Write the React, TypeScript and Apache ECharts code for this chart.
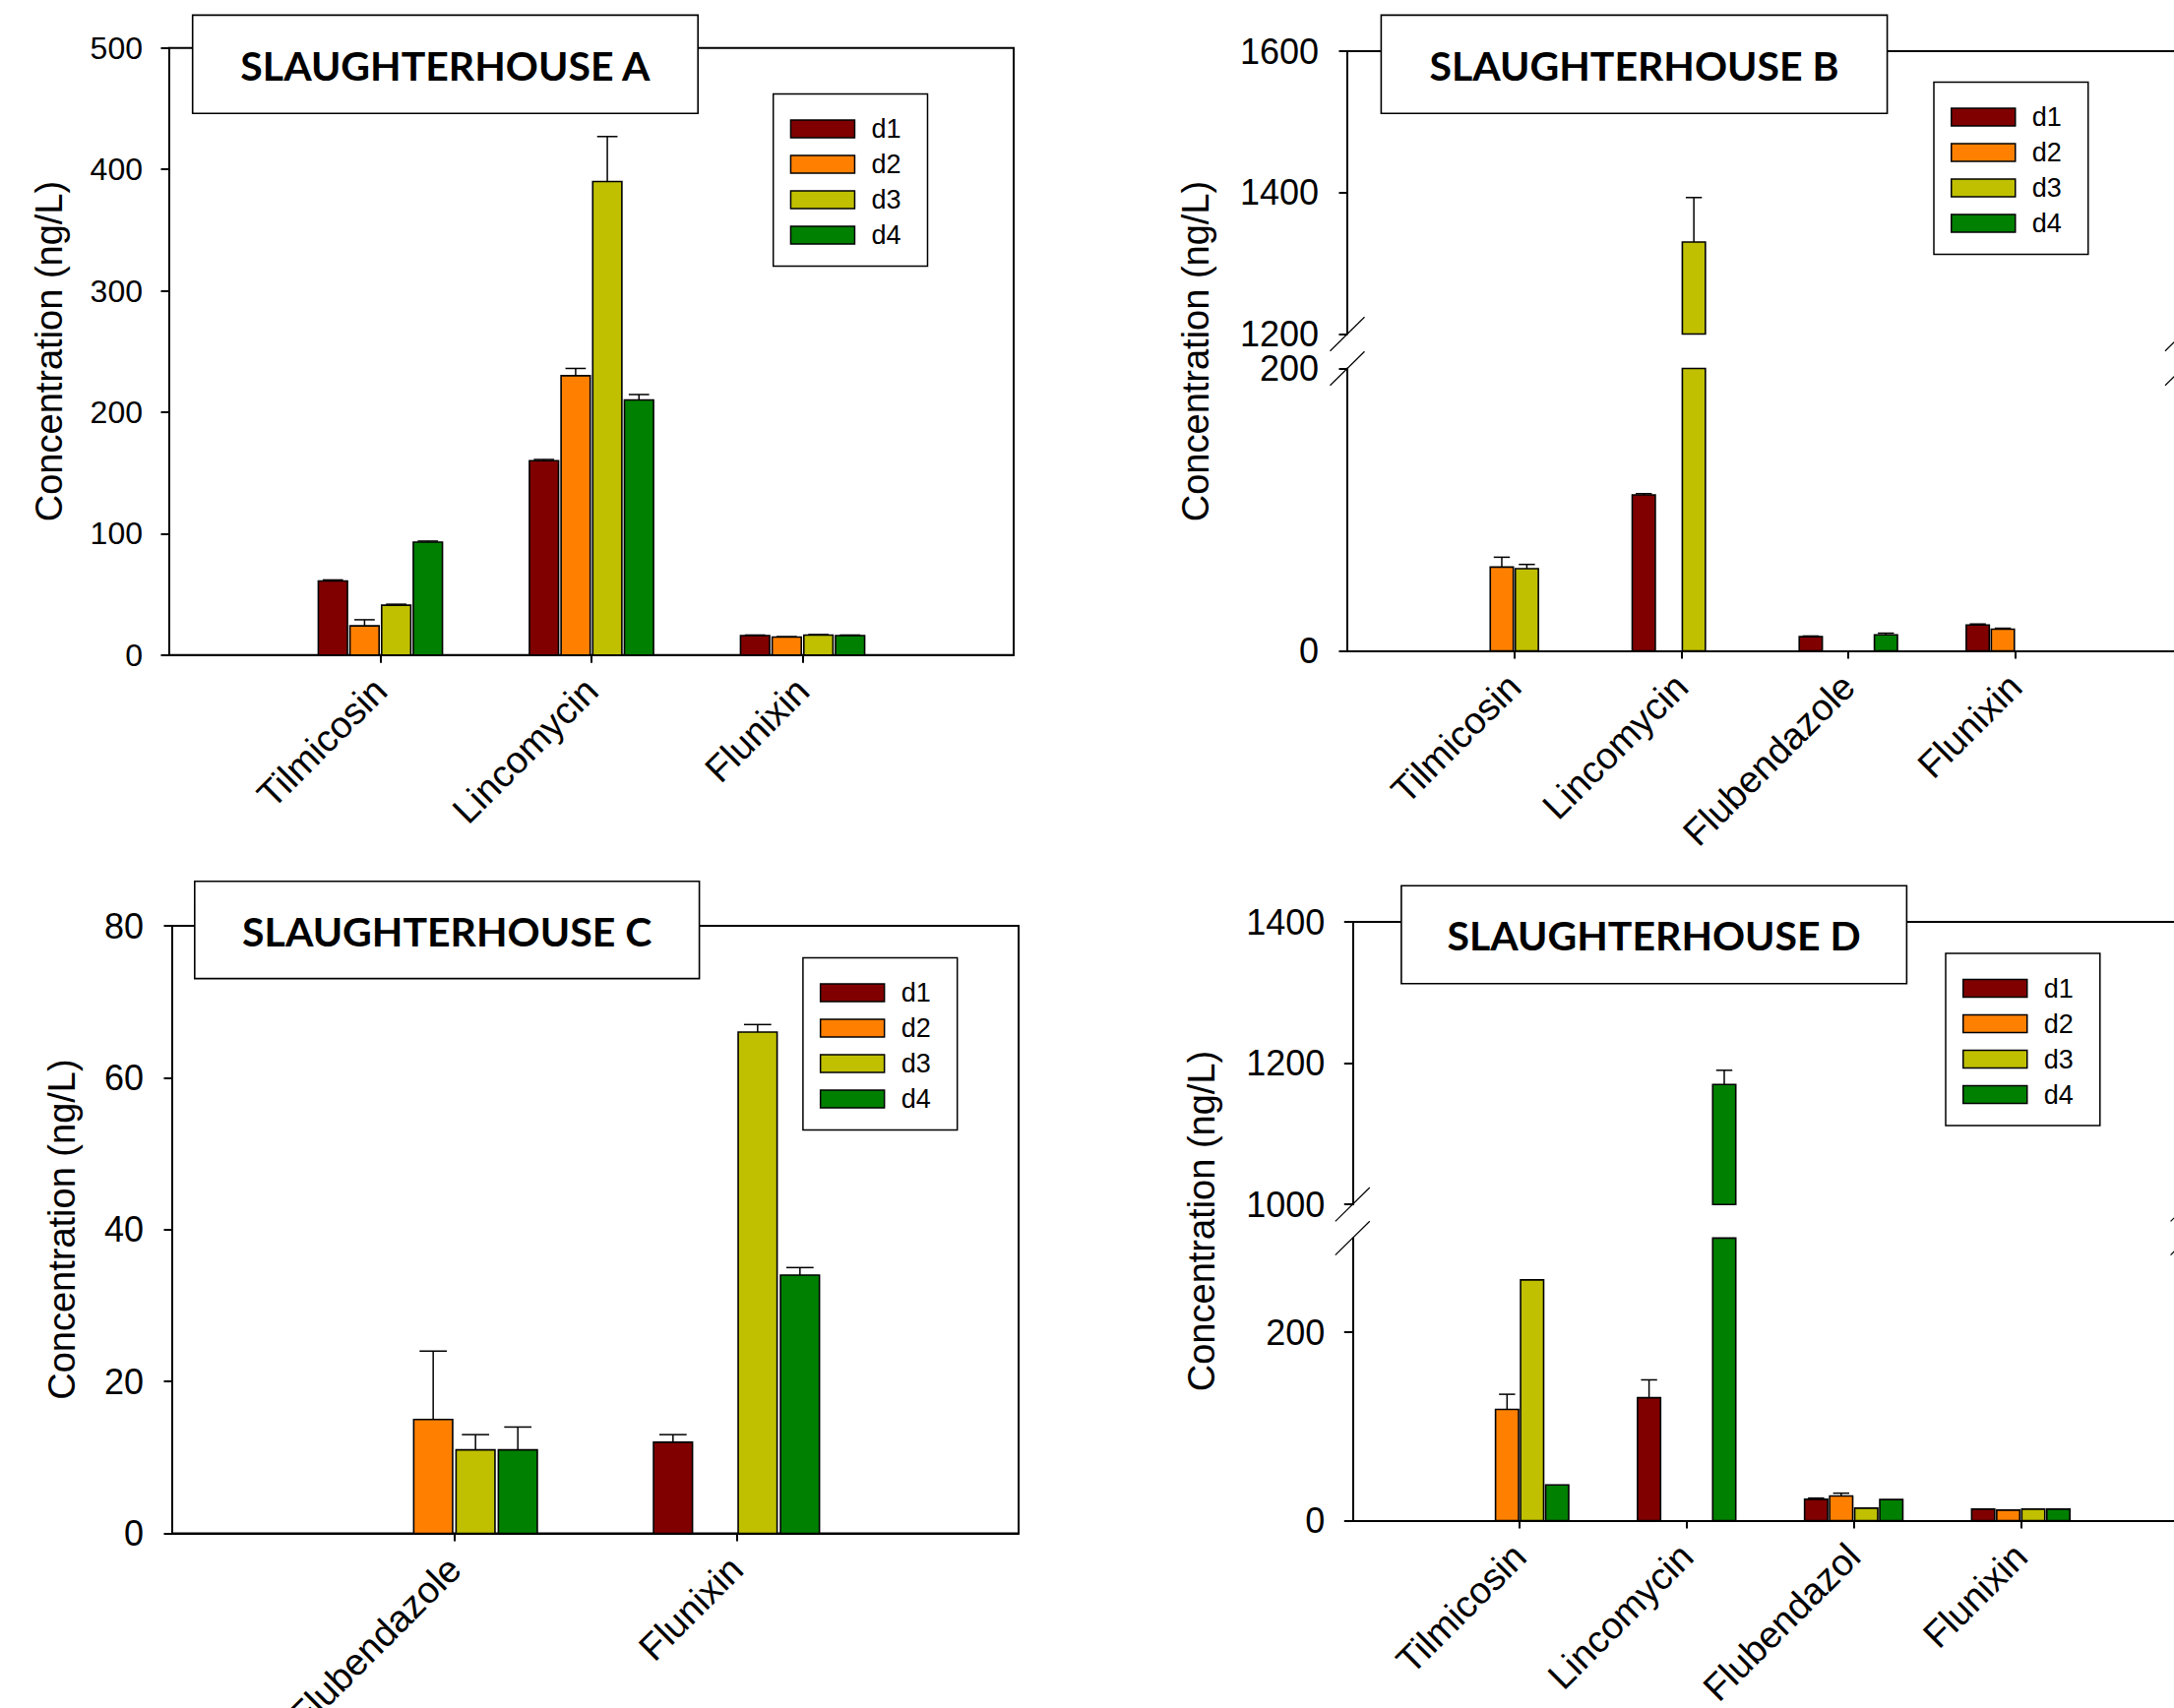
import React, { useEffect, useRef } from "react";
import * as echarts from "echarts";

// ---------- data ----------
const SERIES_NAMES = ["d1", "d2", "d3", "d4"];
const SERIES_COLORS = ["#800000", "#FF8000", "#C0C000", "#008000"];

const A_CATEGORIES = ["Tilmicosin", "Lincomycin", "Flunixin"];
const A_D1 = [61, 160, 16];
const A_D2 = [24, 230, 14.7];
const A_D3 = [41, 390, 16.4];
const A_D4 = [93, 210, 16];
const A_D1_ERR = [0.8, 1, 0.4];
const A_D2_ERR = [5, 6, 0.4];
const A_D3_ERR = [0.8, 37, 0.4];
const A_D4_ERR = [0.8, 4.5, 0.4];

const B_CATEGORIES = ["Tilmicosin", "Lincomycin", "Flubendazole", "Flunixin"];
const B_D1 = [null, 110.5, 10, 18.3];
const B_D2 = [59.3, null, null, 15.3];
const B_D3 = [58.2, 1330, null, null];
const B_D4 = [null, null, 11.3, null];
const B_D1_ERR = [0, 0.8, 0.5, 0.7];
const B_D2_ERR = [7, 0, 0, 0.7];
const B_D3_ERR = [3, 63, 0, 0];
const B_D4_ERR = [0, 0, 1.2, 0];

const C_CATEGORIES = ["Flubendazole", "Flunixin"];
const C_D1 = [null, 12];
const C_D2 = [15, null];
const C_D3 = [11, 66];
const C_D4 = [11, 34];
const C_D1_ERR = [0, 1];
const C_D2_ERR = [9, 0];
const C_D3_ERR = [2, 1];
const C_D4_ERR = [3, 1];

const D_CATEGORIES = ["Tilmicosin", "Lincomycin", "Flubendazol", "Flunixin"];
const D_D1 = [null, 130.5, 22.7, 12.2];
const D_D2 = [118.2, null, 26.2, 11.2];
const D_D3 = [255.6, null, 13.3, 12.2];
const D_D4 = [38, 1170, 22.4, 12.2];
const D_D1_ERR = [0, 19, 1.3, 0];
const D_D2_ERR = [16, 0, 3, 0];
const D_D3_ERR = [0, 0, 0, 0];
const D_D4_ERR = [0, 20, 0, 0];

const A_Y_TICKS = { min: 0, max: 500, interval: 100 };
const B_UPPER_TICKS = { min: 1200, max: 1600, interval: 200 };
const B_LOWER_TICKS = { min: 0, max: 200, interval: 200 };
const C_Y_TICKS = { min: 0, max: 80, interval: 20 };
const D_UPPER_TICKS = { min: 1000, max: 1400, interval: 200 };
const D_LOWER_TICKS = { min: 0, max: 300, interval: 200, custom: [0, 200] };

const TITLES = ["SLAUGHTERHOUSE A", "SLAUGHTERHOUSE B", "SLAUGHTERHOUSE C", "SLAUGHTERHOUSE D"];
const Y_NAME = "Concentration (ng/L)";

// ---------- layout / style ----------
const FONT = '"Liberation Sans", Arial, sans-serif';
const TITLE_FONT = 'Lato, "Open Sans", sans-serif';
const BAR_W = 0.138;
const BAR_STEP = 0.15;
const CAP_FRAC = 0.7;

const GRIDS = [
  { left: 172, top: 48.7, width: 858, height: 617, show: true }, // 0 A
  { left: 1369, top: 52, width: 848.5, height: 287.5 }, // 1 B upper
  { left: 1369, top: 374.5, width: 848.5, height: 287 }, // 2 B lower
  { left: 175, top: 941, width: 860, height: 617.5, show: true }, // 3 C
  { left: 1374.3, top: 937.1, width: 848.75, height: 287.1 }, // 4 D upper
  { left: 1374.3, top: 1258.4, width: 848.75, height: 287.2 }, // 5 D lower
];

type Seg = { grid: number; ticks: any; bottomAxis: boolean; topAxis: boolean; labelSize: number; labelMargin: number };
const PANELS = [
  {
    cats: A_CATEGORIES,
    values: [A_D1, A_D2, A_D3, A_D4],
    errs: [A_D1_ERR, A_D2_ERR, A_D3_ERR, A_D4_ERR],
    segs: [{ grid: 0, ticks: A_Y_TICKS, bottomAxis: true, topAxis: false, labelSize: 32, labelMargin: 27 }] as Seg[],
  },
  {
    cats: B_CATEGORIES,
    values: [B_D1, B_D2, B_D3, B_D4],
    errs: [B_D1_ERR, B_D2_ERR, B_D3_ERR, B_D4_ERR],
    segs: [
      { grid: 1, ticks: B_UPPER_TICKS, bottomAxis: false, topAxis: true, labelSize: 36, labelMargin: 29 },
      { grid: 2, ticks: B_LOWER_TICKS, bottomAxis: true, topAxis: false, labelSize: 36, labelMargin: 29 },
    ] as Seg[],
  },
  {
    cats: C_CATEGORIES,
    values: [C_D1, C_D2, C_D3, C_D4],
    errs: [C_D1_ERR, C_D2_ERR, C_D3_ERR, C_D4_ERR],
    segs: [{ grid: 3, ticks: C_Y_TICKS, bottomAxis: true, topAxis: false, labelSize: 36, labelMargin: 29 }] as Seg[],
  },
  {
    cats: D_CATEGORIES,
    values: [D_D1, D_D2, D_D3, D_D4],
    errs: [D_D1_ERR, D_D2_ERR, D_D3_ERR, D_D4_ERR],
    segs: [
      { grid: 4, ticks: D_UPPER_TICKS, bottomAxis: false, topAxis: true, labelSize: 36, labelMargin: 28 },
      { grid: 5, ticks: D_LOWER_TICKS, bottomAxis: true, topAxis: false, labelSize: 36, labelMargin: 28 },
    ] as Seg[],
  },
];

const TITLE_BOXES = [
  { x: 195.7, y: 15.4, w: 513.5, h: 99.8 },
  { x: 1403.4, y: 15.4, w: 514.2, h: 99.8 },
  { x: 197.8, y: 895.8, w: 512.8, h: 98.8 },
  { x: 1423.9, y: 900.2, w: 513.5, h: 99.5 },
];
const LEGEND_POS = [
  { left: 785.7, top: 95.4 },
  { left: 1965, top: 83.4 },
  { left: 815.9, top: 973.4 },
  { left: 1977, top: 969 },
];
const YNAME_POS = [
  { x: 50, y: 357 },
  { x: 1215, y: 357 },
  { x: 63, y: 1249.6 },
  { x: 1221, y: 1241 },
];

function makeRenderItem(k: number, lo: number, hi: number, color: string) {
  return (params: any, api: any) => {
    const pos = api.value(0);
    const v = api.value(1);
    const e = api.value(2);
    if (v == null || isNaN(v) || v <= lo) return null;
    const xc = pos + (k - 1.5) * BAR_STEP;
    const top = Math.min(v, hi);
    const p0 = api.coord([xc - BAR_W / 2, lo]);
    const p1 = api.coord([xc + BAR_W / 2, top]);
    const children: any[] = [
      {
        type: "rect",
        shape: { x: p0[0], y: p1[1], width: p1[0] - p0[0], height: p0[1] - p1[1] },
        style: { fill: color, stroke: "#000", lineWidth: 1.6 },
      },
    ];
    if (v <= hi && e > 0) {
      const eTop = Math.min(v + e, hi);
      const c = api.coord([xc, v]);
      const ce = api.coord([xc, eTop]);
      const half = ((p1[0] - p0[0]) * CAP_FRAC) / 2;
      children.push({
        type: "line",
        shape: { x1: c[0], y1: c[1], x2: ce[0], y2: ce[1] },
        style: { stroke: "#000", lineWidth: 1.5 },
      });
      children.push({
        type: "line",
        shape: { x1: ce[0] - half, y1: ce[1], x2: ce[0] + half, y2: ce[1] },
        style: { stroke: "#000", lineWidth: 1.5 },
      });
    }
    return { type: "group", children };
  };
}

function buildOption() {
  const grid = GRIDS.map((g) => ({
    left: g.left,
    top: g.top,
    width: g.width,
    height: g.height,
    containLabel: false,
    outerBoundsMode: "none",
    show: !!g.show,
    borderColor: "#000",
    borderWidth: 2,
    backgroundColor: "transparent",
  }));
  const xAxis: any[] = [];
  const yAxis: any[] = [];
  const series: any[] = [];

  PANELS.forEach((p) => {
    const n = p.cats.length;
    const catPositions = p.cats.map((_, i) => i + 1);
    p.segs.forEach((s) => {
      const labelShow = s.bottomAxis;
      xAxis[s.grid] = {
        gridIndex: s.grid,
        type: "value",
        min: 0,
        max: n + 1,
        position: s.topAxis ? "top" : "bottom",
        axisLine: { show: true, onZero: false, lineStyle: { color: "#000", width: 2 } },
        axisTick: {
          show: labelShow,
          inside: false,
          length: 8,
          customValues: catPositions,
          lineStyle: { color: "#000", width: 2 },
        },
        axisLabel: {
          show: labelShow,
          customValues: catPositions,
          rotate: 45,
          margin: 30,
          fontSize: 38,
          fontFamily: FONT,
          color: "#000",
          formatter: (val: number) => p.cats[Math.round(val) - 1] ?? "",
        },
        splitLine: { show: false },
      };
      const t = s.ticks;
      const ticksCustom = t.custom ? { customValues: t.custom } : {};
      yAxis[s.grid] = {
        gridIndex: s.grid,
        type: "value",
        min: t.min,
        max: t.max,
        interval: t.interval,
        axisLine: { show: true, onZero: false, lineStyle: { color: "#000", width: 2 } },
        axisTick: { show: true, inside: false, length: 8.5, lineStyle: { color: "#000", width: 2 }, ...ticksCustom },
        axisLabel: {
          show: true,
          fontSize: s.labelSize,
          lineHeight: 30,
          fontFamily: FONT,
          color: "#000",
          margin: s.labelMargin,
          formatter: (val: number) => String(val),
          ...ticksCustom,
        },
        splitLine: { show: false },
      };
      SERIES_NAMES.forEach((name, k) => {
        const data = p.cats
          .map((_, i) => {
            const v = p.values[k][i];
            if (v == null) return null;
            return [i + 1, v, p.errs[k][i] ?? 0];
          })
          .filter((d) => d !== null);
        series.push({
          type: "custom",
          name,
          xAxisIndex: s.grid,
          yAxisIndex: s.grid,
          itemStyle: { color: SERIES_COLORS[k], borderColor: "#000", borderWidth: 1.5 },
          encode: { x: 0, y: 1 },
          clip: false,
          z: 3,
          renderItem: makeRenderItem(k, t.min, t.max, SERIES_COLORS[k]),
          data,
        });
      });
    });
  });

  const legend = LEGEND_POS.map((lp) => ({
    orient: "vertical",
    left: lp.left,
    top: lp.top,
    data: SERIES_NAMES,
    icon: "rect",
    itemWidth: 65,
    itemHeight: 18,
    itemGap: 9,
    padding: [22, 27, 18, 17],
    borderColor: "#000",
    borderWidth: 1.5,
    backgroundColor: "#fff",
    selectedMode: false,
    itemStyle: { borderColor: "#000", borderWidth: 1.5 },
    textStyle: { fontSize: 27, fontFamily: FONT, color: "#000", padding: [0, 0, 0, 12] },
    z: 10,
  }));

  const graphic: any[] = [];
  TITLE_BOXES.forEach((b, i) => {
    graphic.push({
      type: "group",
      z: 100,
      children: [
        {
          type: "rect",
          z: 100,
          shape: { x: b.x, y: b.y, width: b.w, height: b.h },
          style: { fill: "#fff", stroke: "#000", lineWidth: 1.6 },
        },
        {
          type: "text",
          z: 101,
          x: b.x + b.w / 2,
          y: b.y + b.h / 2 + 1,
          style: {
            text: TITLES[i],
            fontSize: 41,
            fontWeight: "bold",
            fontFamily: TITLE_FONT,
            fill: "#000",
            align: "center",
            verticalAlign: "middle",
          },
        },
      ],
    });
  });
  YNAME_POS.forEach((pp) => {
    graphic.push({
      type: "text",
      z: 100,
      x: pp.x,
      y: pp.y,
      rotation: Math.PI / 2,
      style: {
        text: Y_NAME,
        fontSize: 38,
        fontFamily: FONT,
        fill: "#000",
        align: "center",
        verticalAlign: "middle",
      },
    });
  });
  // axis break marks (two slashes at each break, left and right sides)
  const breakPairs = [
    [1, 2],
    [4, 5],
  ];
  breakPairs.forEach(([u, l]) => {
    const gu = GRIDS[u];
    const gl = GRIDS[l];
    const ys = [gu.top + gu.height, gl.top];
    const xs = [gu.left, gu.left + gu.width];
    xs.forEach((x) => {
      ys.forEach((y) => {
        graphic.push({
          type: "line",
          z: 100,
          shape: { x1: x - 17.5, y1: y + 17.2, x2: x + 17.5, y2: y - 17.2 },
          style: { stroke: "#000", lineWidth: 1.2 },
        });
      });
    });
  });

  return {
    animation: false,
    backgroundColor: "#fff",
    grid,
    xAxis,
    yAxis,
    legend,
    series,
    graphic,
  };
}

export default function App() {
  const ref = useRef<HTMLDivElement>(null);
  useEffect(() => {
    if (!ref.current) return;
    const chart = echarts.init(ref.current, undefined, { renderer: "svg" });
    chart.setOption(buildOption() as any);
    return () => chart.dispose();
  }, []);
  return (
    <div
      ref={ref}
      style={{ position: "absolute", left: 0, top: 0, width: 2209, height: 1736, background: "#fff" }}
    />
  );
}
